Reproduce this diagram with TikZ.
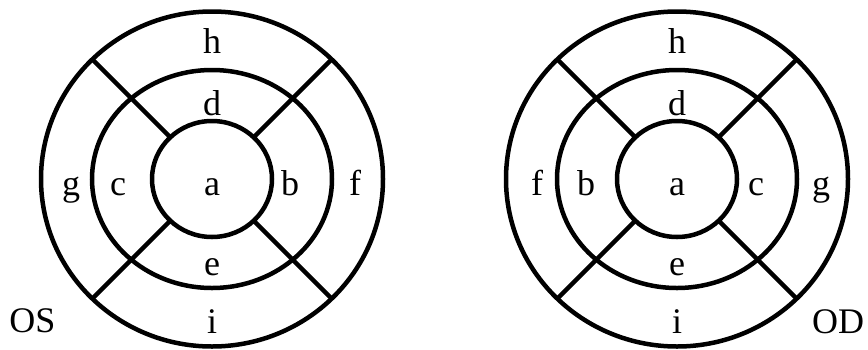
\documentclass[tikz,border=0pt]{standalone}
\usepackage{fontspec}
\setmainfont{Liberation Serif}
\usetikzlibrary{calc}
\begin{document}
\begin{tikzpicture}[x=1pt,y=-1pt,
  ring/.style={line width=4.5pt},
  lbl/.style={inner sep=0pt,anchor=base,font=\fontsize{36}{36}\selectfont}]
\useasboundingbox (0,0) rectangle (868,349);
\fill[white] (0,0) rectangle (868,349);
\coordinate (L) at (212,179);
\coordinate (R) at (677,179);
\foreach \c in {L,R}{
  \draw[ring] (\c) ellipse [x radius=171, y radius=167.5];
  \draw[ring] (\c) ellipse [x radius=120, y radius=109];
  \draw[ring] (\c) ellipse [x radius=60, y radius=58];
  \foreach \ang in {45,135,225,315}{
    \draw[ring] ($(\c)+(\ang:59)$) -- ($(\c)+(\ang:169.5)$);
  }
}
% left (OS)
\node[lbl] (Lh) at (212,53) {h};
\node[lbl] (Ld) at (212,115) {d};
\node[lbl] (La) at (212,195) {a};
\node[lbl] (Lc) at (118,195) {c};
\node[lbl] (Lb) at (290,195) {b};
\node[lbl] (Lg) at (71,195) {g};
\node[lbl] (Lf) at (355,195) {f};
\node[lbl] (Le) at (212,275) {e};
\node[lbl] (Li) at (212,333) {i};
\node[lbl] (OS) at (32.5,332) {OS};
% right (OD)
\node[lbl] (Rh) at (677,53) {h};
\node[lbl] (Rd) at (677,115) {d};
\node[lbl] (Ra) at (677,195) {a};
\node[lbl] (Rf) at (537,195) {f};
\node[lbl] (Rb) at (586,195) {b};
\node[lbl] (Rc) at (756,195) {c};
\node[lbl] (Rg) at (821,195) {g};
\node[lbl] (Re) at (677,275) {e};
\node[lbl] (Ri) at (677,333) {i};
\node[lbl] (OD) at (838,333) {OD};
\end{tikzpicture}
\end{document}
